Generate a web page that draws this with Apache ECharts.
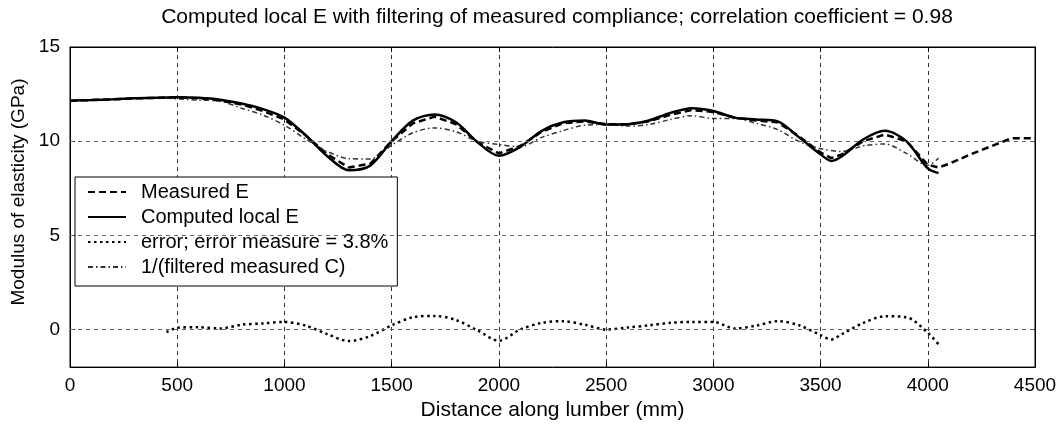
<!DOCTYPE html>
<html>
<head>
<meta charset="utf-8">
<script src="https://cdn.jsdelivr.net/npm/echarts@6/dist/echarts.min.js"></script>
<style>html,body{margin:0;padding:0;background:#fff}#c{width:1061px;height:426px}</style>
</head>
<body>
<div id="c"></div>
<script>
// Computed local E (solid)
const compX = [0,100,200,300,400,500,600,700,800,900,1000,1100,1200,1300,1400,1500,1600,1700,1800,1900,2000,2100,2200,2300,2400,2500,2600,2700,2800,2900,3000,3100,3200,3300,3400,3500,3550,3600,3700,3800,3900,4000,4050];
const compY = [12.15,12.18,12.22,12.28,12.3,12.33,12.3,12.2,12.0,11.7,11.25,10.3,9.2,8.45,8.7,10.0,11.1,11.42,11.0,9.95,9.22,9.7,10.55,11.0,11.1,10.88,10.9,11.1,11.5,11.75,11.6,11.25,11.15,11.05,10.2,9.3,8.95,9.2,10.1,10.55,10.0,8.55,8.3];
// Measured E (dashed)
const measX = [0,100,200,300,400,500,600,700,800,900,1000,1100,1200,1300,1400,1500,1600,1700,1800,1900,2000,2100,2200,2300,2400,2500,2600,2700,2800,2900,3000,3100,3200,3300,3400,3500,3550,3600,3700,3800,3900,4000,4050,4100,4200,4300,4390,4500];
const measY = [12.15,12.18,12.22,12.27,12.3,12.32,12.28,12.15,11.95,11.6,11.15,10.3,9.3,8.6,8.8,10.0,10.95,11.3,10.9,9.95,9.35,9.75,10.5,10.95,11.05,10.9,10.9,11.05,11.4,11.65,11.55,11.25,11.1,11.0,10.25,9.4,9.1,9.3,10.0,10.35,10.0,8.75,8.6,8.8,9.3,9.75,10.15,10.15];
// 1/(filtered measured C) (dash-dot)
const filtX = [450,500,600,700,800,900,1000,1100,1200,1300,1400,1500,1600,1700,1800,1900,2000,2100,2200,2300,2400,2500,2600,2700,2800,2900,3000,3100,3200,3300,3400,3500,3600,3700,3800,3900,4000,4050];
const filtY = [12.3,12.24,12.18,12.12,11.75,11.38,10.85,10.1,9.45,9.07,9.05,9.78,10.45,10.7,10.5,10.0,9.82,9.7,10.2,10.56,10.85,10.88,10.8,10.88,11.15,11.35,11.2,11.2,10.95,10.61,9.98,9.6,9.45,9.75,9.85,9.35,8.72,9.09];
// error (dotted)
const errX = [450,500,600,700,800,900,1000,1100,1200,1300,1400,1500,1600,1700,1800,1900,2000,2100,2200,2300,2400,2500,2600,2700,2800,2900,3000,3100,3200,3300,3400,3500,3550,3600,3700,3800,3900,4000,4050];
const errY = [-0.15,0.09,0.12,0.05,0.25,0.32,0.4,0.2,-0.25,-0.62,-0.35,0.22,0.65,0.72,0.5,-0.05,-0.6,0.0,0.35,0.44,0.25,0.0,0.1,0.22,0.35,0.4,0.4,0.05,0.2,0.44,0.22,-0.3,-0.53,-0.25,0.35,0.7,0.65,-0.17,-0.79];
const xTicks = [0,500,1000,1500,2000,2500,3000,3500,4000,4500];
const yTicks = [0,5,10,15];
const hGrid = [0,5,10];

const zip = (xs, ys) => xs.map((x, i) => [x, ys[i]]);
const FONT = 'Liberation Sans, Arial, sans-serif';

const chart = echarts.init(document.getElementById('c'), null, {renderer: 'canvas'});
chart.setOption({
  animation: false,
  backgroundColor: '#fff',
  title: {
    text: 'Computed local E with filtering of measured compliance; correlation coefficient = 0.98',
    left: 552, top: 2, textAlign: 'center',
    textStyle: {fontFamily: FONT, fontSize: 21, fontWeight: 'normal', color: '#000'}
  },
  grid: {left: 70, right: 26, top: 47, bottom: 56, show: true, borderColor: '#000', borderWidth: 1, backgroundColor: 'transparent'},
  legend: {
    orient: 'vertical', left: 75, top: 177,
    backgroundColor: '#fff', borderColor: '#000', borderWidth: 1,
    padding: [5, 9, 9, 12], itemGap: 5, itemWidth: 38, itemHeight: 14,
    itemStyle: {opacity: 0},
    textStyle: {fontFamily: FONT, fontSize: 20, color: '#000', padding: [0, 0, 0, 10]},
    data: ['Measured E', 'Computed local E', 'error; error measure = 3.8%', '1/(filtered measured C)']
  },
  xAxis: [{
    type: 'value', min: 0, max: 4500, interval: 500,
    name: 'Distance along lumber (mm)', nameLocation: 'middle', nameGap: 27,
    nameTextStyle: {fontFamily: FONT, fontSize: 21, color: '#000'},
    axisLine: {show: true, onZero: false, lineStyle: {color: '#000'}},
    axisTick: {show: true, inside: true, length: 5, lineStyle: {color: '#000'}},
    axisLabel: {fontFamily: FONT, fontSize: 19, color: '#000', margin: 9, formatter: v => String(v)},
    splitLine: {show: true, lineStyle: {color: '#333', type: [4, 4], width: 1}}
  }, {
    type: 'value', min: 0, max: 4500, interval: 500, position: 'top',
    axisLine: {show: true, onZero: false, lineStyle: {color: '#000'}},
    axisTick: {show: true, inside: true, length: 5, lineStyle: {color: '#000'}},
    axisLabel: {show: false}, splitLine: {show: false}
  }],
  yAxis: [{
    type: 'value', min: -2, max: 15,
    name: 'Modulus of elasticity (GPa)', nameLocation: 'middle', nameGap: 29,
    nameTextStyle: {fontFamily: FONT, fontSize: 19, color: '#000', padding: [0, 0, 0, 30]},
    axisLine: {show: true, onZero: false, lineStyle: {color: '#000'}},
    axisTick: {show: true, inside: true, length: 5, customValues: yTicks, lineStyle: {color: '#000'}},
    axisLabel: {fontFamily: FONT, fontSize: 19, color: '#000', margin: 10, customValues: yTicks},
    splitLine: {show: false}
  }, {
    type: 'value', min: -2, max: 15, position: 'right',
    axisLine: {show: true, onZero: false, lineStyle: {color: '#000'}},
    axisTick: {show: true, inside: true, length: 5, customValues: yTicks, lineStyle: {color: '#000'}},
    axisLabel: {show: false}, splitLine: {show: false}
  }],
  series: [
    {
      name: 'grid', type: 'line', data: [], silent: true, z: 1,
      markLine: {
        silent: true, symbol: 'none', label: {show: false},
        lineStyle: {color: '#666', type: [4, 4], width: 1},
        data: hGrid.map(v => ({yAxis: v}))
      }
    },
    {
      name: 'Measured E', type: 'line', data: zip(measX, measY), showSymbol: false, symbol: 'none', z: 3,
      lineStyle: {color: '#000', width: 2.5, type: [7, 4]}, itemStyle: {color: '#000'}
    },
    {
      name: 'Computed local E', type: 'line', data: zip(compX, compY), showSymbol: false, symbol: 'none', z: 4,
      smooth: 0.3,
      lineStyle: {color: '#000', width: 2.5, type: 'solid'}, itemStyle: {color: '#000'}
    },
    {
      name: 'error; error measure = 3.8%', type: 'line', data: zip(errX, errY), showSymbol: false, symbol: 'none', z: 3,
      smooth: 0.3,
      lineStyle: {color: '#000', width: 2.5, type: [2.5, 3.5]}, itemStyle: {color: '#000'}
    },
    {
      name: '1/(filtered measured C)', type: 'line', data: zip(filtX, filtY), showSymbol: false, symbol: 'none', z: 3,
      smooth: 0.3,
      lineStyle: {color: '#333', width: 1.5, type: [5, 3, 1.5, 3]}, itemStyle: {color: '#333'}
    }
  ]
});
</script>
</body>
</html>
